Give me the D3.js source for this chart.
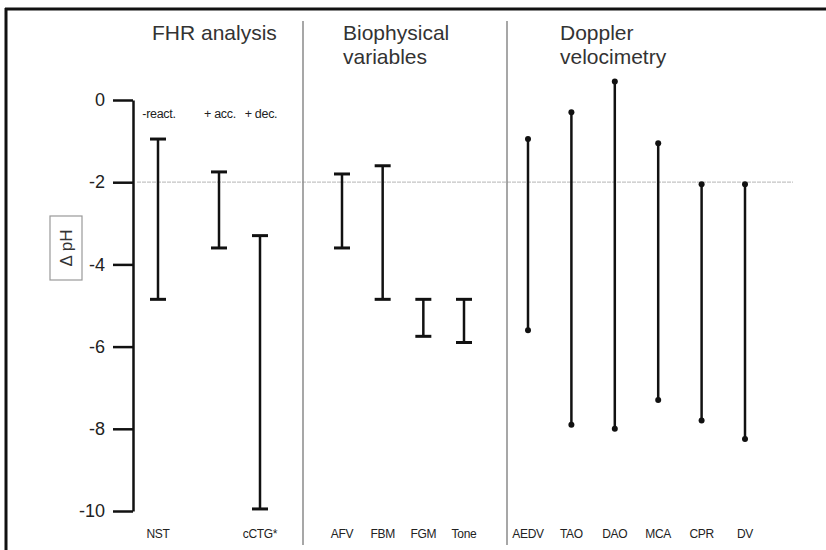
<!DOCTYPE html>
<html>
<head>
<meta charset="utf-8">
<script src="https://cdn.jsdelivr.net/npm/d3@7/dist/d3.min.js"></script>
<style>
  body { margin: 0; background: #fff; }
  svg { display: block; font-family: "Liberation Sans", Arial, sans-serif; }
</style>
</head>
<body>
<script>
// group headings
const fhrTitle = ["FHR analysis"];
const bioTitle = ["Biophysical", "variables"];
const dopTitle = ["Doppler", "velocimetry"];

// FHR analysis bars (delta pH range)
const fhrBars = ["-react.", "+ acc.", "+ dec."];
const fhrLabels = ["NST", "", "cCTG*"];
const fhrTop = [-0.95, -1.75, -3.3];
const fhrBottom = [-4.85, -3.6, -9.95];

// biophysical variables
const bioBars = ["AFV", "FBM", "FGM", "Tone"];
const bioTop = [-1.8, -1.6, -4.85, -4.85];
const bioBottom = [-3.6, -4.85, -5.75, -5.9];

// doppler velocimetry
const dopBars = ["AEDV", "TAO", "DAO", "MCA", "CPR", "DV"];
const dopTop = [-0.95, -0.3, 0.45, -1.05, -2.05, -2.05];
const dopBottom = [-5.6, -7.9, -8.0, -7.3, -7.8, -8.25];

// y axis
const yTicks = [0, -2, -4, -6, -8, -10];
const refValue = -2;

const w = 826;
const h = 550;
const capW = 16;

const svg = d3.select("body").append("svg")
    .attr("width", w)
    .attr("height", h);

// frame: only top and left edges show
svg.append("line").attr("x1", 5).attr("x2", w).attr("y1", 9).attr("y2", 9)
   .attr("stroke", "#111").attr("stroke-width", 3);
svg.append("line").attr("x1", 6).attr("x2", 6).attr("y1", 8).attr("y2", h)
   .attr("stroke", "#111").attr("stroke-width", 3);

const yScale = d3.scaleLinear().domain([0, -10]).range([100, 511]);

// scales for each group (NST pair sits apart from the cCTG bar)
const xFhr = d3.scaleOrdinal().domain(fhrBars).range([158, 219, 260]);
const xBio = d3.scalePoint().domain(bioBars).range([342, 464]);
const xDop = d3.scalePoint().domain(dopBars).range([528, 745]);

// reference line at -2
svg.append("line")
   .attr("x1", 137).attr("x2", 793)
   .attr("y1", yScale(refValue)).attr("y2", yScale(refValue))
   .attr("stroke", "#c4c4c4").attr("stroke-width", 1.2)
   .attr("stroke-dasharray", "4,1");

// group separators
[303, 507].forEach(function(x) {
  svg.append("line")
     .attr("x1", x).attr("x2", x).attr("y1", 21).attr("y2", 545)
     .attr("stroke", "#8a8a8a").attr("stroke-width", 1.5);
});

// y axis
const yAxis = svg.append("g")
   .attr("transform", "translate(133,0)")
   .call(d3.axisLeft(yScale).tickValues(yTicks).tickSize(20).tickSizeOuter(0)
          .tickFormat(function(d) { return String(d); }));
yAxis.select(".domain").attr("stroke", "#111").attr("stroke-width", 2.5);
yAxis.selectAll(".tick line").attr("stroke", "#111").attr("stroke-width", 2.5);
yAxis.selectAll(".tick text")
   .attr("x", -28)
   .attr("font-size", 18)
   .attr("font-family", "Liberation Sans, Arial, sans-serif")
   .attr("fill", "#222");

// y axis label in a box
svg.append("rect")
   .attr("x", 50).attr("y", 216).attr("width", 32).attr("height", 64)
   .attr("fill", "none").attr("stroke", "#999").attr("stroke-width", 1.2);
svg.append("text")
   .attr("transform", "translate(72,248) rotate(-90)")
   .attr("text-anchor", "middle")
   .attr("font-size", 17)
   .attr("fill", "#333")
   .text("\u0394 pH");

// group titles
function title(lines, x) {
  const t = svg.append("text").attr("x", x).attr("y", 40)
               .attr("font-size", 21).attr("fill", "#333");
  lines.forEach(function(s, i) {
    t.append("tspan").attr("x", x).attr("dy", i === 0 ? 0 : 24).text(s);
  });
}
title(fhrTitle, 152);
title(bioTitle, 343);
title(dopTitle, 560);

// error bars with flat caps
function capBars(names, tops, bottoms, x) {
  const g = svg.append("g").attr("stroke", "#111").attr("stroke-width", 2.5);
  names.forEach(function(n, i) {
    const cx = x(n);
    g.append("line").attr("x1", cx).attr("x2", cx)
     .attr("y1", yScale(tops[i])).attr("y2", yScale(bottoms[i]));
    [tops[i], bottoms[i]].forEach(function(v) {
      g.append("line").attr("x1", cx - capW / 2).attr("x2", cx + capW / 2)
       .attr("y1", yScale(v)).attr("y2", yScale(v)).attr("stroke-width", 3);
    });
  });
}
capBars(fhrBars, fhrTop, fhrBottom, xFhr);
capBars(bioBars, bioTop, bioBottom, xBio);

// doppler bars with dot ends
const dop = svg.append("g");
dopBars.forEach(function(n, i) {
  const cx = xDop(n);
  dop.append("line").attr("x1", cx).attr("x2", cx)
     .attr("y1", yScale(dopTop[i])).attr("y2", yScale(dopBottom[i]))
     .attr("stroke", "#111").attr("stroke-width", 2.5);
  [dopTop[i], dopBottom[i]].forEach(function(v) {
    dop.append("circle").attr("cx", cx).attr("cy", yScale(v)).attr("r", 3)
       .attr("fill", "#111");
  });
});

// small labels above FHR bars
svg.selectAll(".sub")
   .data(fhrBars)
   .enter()
   .append("text")
   .attr("x", function(d) { return xFhr(d) + 1; })
   .attr("y", 118)
   .attr("text-anchor", "middle")
   .attr("font-size", 12.5)
   .attr("letter-spacing", -0.3)
   .attr("fill", "#222")
   .text(function(d) { return d; });

// bottom category labels
function bottomLabels(names, labels, x) {
  names.forEach(function(n, i) {
    svg.append("text")
       .attr("x", x(n)).attr("y", 538)
       .attr("text-anchor", "middle")
       .attr("font-size", 12)
       .attr("letter-spacing", -0.3)
       .attr("fill", "#222")
       .text(labels[i]);
  });
}
bottomLabels(fhrBars, fhrLabels, xFhr);
bottomLabels(bioBars, bioBars, xBio);
bottomLabels(dopBars, dopBars, xDop);
</script>
</body>
</html>
